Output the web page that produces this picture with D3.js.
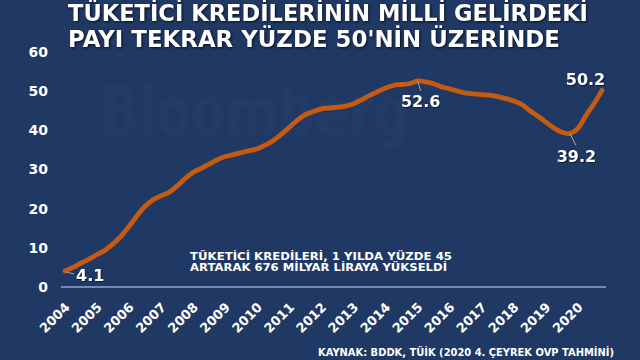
<!DOCTYPE html>
<html>
<head>
<meta charset="utf-8">
<script src="https://cdn.jsdelivr.net/npm/d3@7"></script>
<style>
  body { margin: 0; background: #1f3864; }
  svg text { font-family: "DejaVu Sans", Verdana, sans-serif; font-weight: bold; fill: #fff; }
</style>
</head>
<body>
<div id="chart"></div>
<script>
// quarterly share of consumer credit in national income, 2004Q1 .. 2020Q4
const values = [
  4.1, 5.0, 6.1, 7.1, 8.3, 9.4, 11.0, 13.0,
  15.5, 18.2, 20.6, 22.3, 23.3, 24.2, 25.8, 27.7,
  29.3, 30.3, 31.4, 32.5, 33.3, 33.8, 34.3, 34.8,
  35.3, 36.2, 37.4, 39.0, 40.8, 42.6, 44.0, 44.8,
  45.5, 45.7, 45.9, 46.2, 46.8, 47.8, 48.9, 49.9,
  50.8, 51.5, 51.7, 51.9, 52.6, 52.4, 51.9, 51.1,
  50.6, 50.0, 49.5, 49.3, 49.1, 49.0, 48.6, 48.1,
  47.5, 46.6, 45.0, 43.6, 42.1, 40.6, 39.5, 39.2,
  40.5, 43.8, 46.8, 50.2
];
const years = d3.range(2004, 2021).map(String);
const yTicks = [0, 10, 20, 30, 40, 50, 60];

// labelled points: index into values
const labelled = [
  { i: 0, dx: 11, dy: 10, anchor: "start", leader: [1, 1, 9, 3] },
  { i: 44, dx: 3, dy: 26, anchor: "middle", leader: [0, 0, 3, 10] },
  { i: 63, dx: 6.5, dy: 28.5, anchor: "middle", leader: [0, 0, 6, 12] },
  { i: 67, dx: -16.5, dy: -5, anchor: "middle", leader: null }
];

const W = 640, H = 360;
const svg = d3.select("#chart").append("svg").attr("width", W).attr("height", H);

svg.append("rect").attr("width", W).attr("height", H).attr("fill", "#1f3864");

// faint watermark
svg.append("text")
  .attr("x", 100).attr("y", 135)
  .attr("textLength", 310).attr("lengthAdjust", "spacingAndGlyphs")
  .style("font-size", "68px")
  .style("fill", "#ffffff").style("fill-opacity", 0.018)
  .text("Bloomberg");

const x = d3.scaleLinear().domain([0, values.length - 1]).range([65, 602]);
const y = d3.scaleLinear().domain([0, 60]).range([287, 52]);

// title
const title = svg.append("g").style("filter", "drop-shadow(1px 1px 1px rgba(0,0,0,0.7))");
title.append("text").attr("x", 68).attr("y", 21)
  .attr("textLength", 520).attr("lengthAdjust", "spacingAndGlyphs")
  .style("font-size", "23px")
  .text("TÜKETİCİ KREDİLERİNİN MİLLİ GELİRDEKİ");
title.append("text").attr("x", 68).attr("y", 46.5)
  .attr("textLength", 492).attr("lengthAdjust", "spacingAndGlyphs")
  .style("font-size", "23px")
  .text("PAYI TEKRAR YÜZDE 50'NİN ÜZERİNDE");

// y axis
const yAxis = svg.append("g").attr("transform", "translate(48,0)")
  .call(d3.axisLeft(y).tickValues(yTicks).tickSize(0).tickPadding(0));
yAxis.select(".domain").remove();
yAxis.selectAll("text").style("font-size", "14px").attr("fill", "#fff")
  .style("font-family", "DejaVu Sans, sans-serif");

// zero line
svg.append("line")
  .attr("x1", x(0) - 4).attr("x2", x(values.length - 1) + 4)
  .attr("y1", y(0)).attr("y2", y(0))
  .attr("stroke", "#8ea7cf").attr("stroke-width", 1.5);

// x axis, one label per year at its first quarter
const xAxis = svg.append("g").attr("transform", `translate(0,${y(0)})`)
  .call(d3.axisBottom(x)
    .tickValues(years.map((d, k) => k * 4))
    .tickFormat((d) => years[d / 4])
    .tickSize(0));
xAxis.select(".domain").remove();
xAxis.selectAll("text")
  .attr("fill", "#fff")
  .style("font-size", "13px")
  .style("font-family", "DejaVu Sans, sans-serif")
  .style("text-anchor", "end")
  .attr("dy", 0)
  .attr("transform", "translate(3,19) rotate(-45)");

// annotation
svg.append("text").attr("x", 190).attr("y", 259.5)
  .attr("textLength", 262).attr("lengthAdjust", "spacingAndGlyphs")
  .style("font-size", "11px")
  .text("TÜKETİCİ KREDİLERİ, 1 YILDA YÜZDE 45");
svg.append("text").attr("x", 190).attr("y", 271)
  .attr("textLength", 257).attr("lengthAdjust", "spacingAndGlyphs")
  .style("font-size", "11px")
  .text("ARTARAK 676 MİLYAR LİRAYA YÜKSELDİ");

// line
const line = d3.line().x((d, i) => x(i)).y((d) => y(d)).curve(d3.curveCatmullRom);
svg.append("path").datum(values)
  .attr("d", line)
  .attr("fill", "none")
  .attr("stroke", "#c55a11")
  .attr("stroke-width", 4.8)
  .attr("stroke-linecap", "round")
  .attr("stroke-linejoin", "round");

// data labels
labelled.forEach((l) => {
  const px = x(l.i), py = y(values[l.i]);
  if (l.leader) {
    svg.append("line")
      .attr("x1", px + l.leader[0]).attr("y1", py + l.leader[1])
      .attr("x2", px + l.leader[2]).attr("y2", py + l.leader[3])
      .attr("stroke", "#a6a6a6").attr("stroke-width", 1);
  }
  svg.append("text")
    .attr("x", px + l.dx).attr("y", py + l.dy)
    .attr("text-anchor", l.anchor)
    .style("font-size", "16px")
    .style("filter", "drop-shadow(1px 1px 0.5px rgba(0,0,0,0.5))")
    .text(values[l.i].toFixed(1));
});

// source
svg.append("text").attr("x", 318).attr("y", 356)
  .attr("textLength", 296).attr("lengthAdjust", "spacingAndGlyphs")
  .style("font-size", "10px")
  .text("KAYNAK: BDDK, TÜİK (2020 4. ÇEYREK OVP TAHMİNİ)");
</script>
</body>
</html>
